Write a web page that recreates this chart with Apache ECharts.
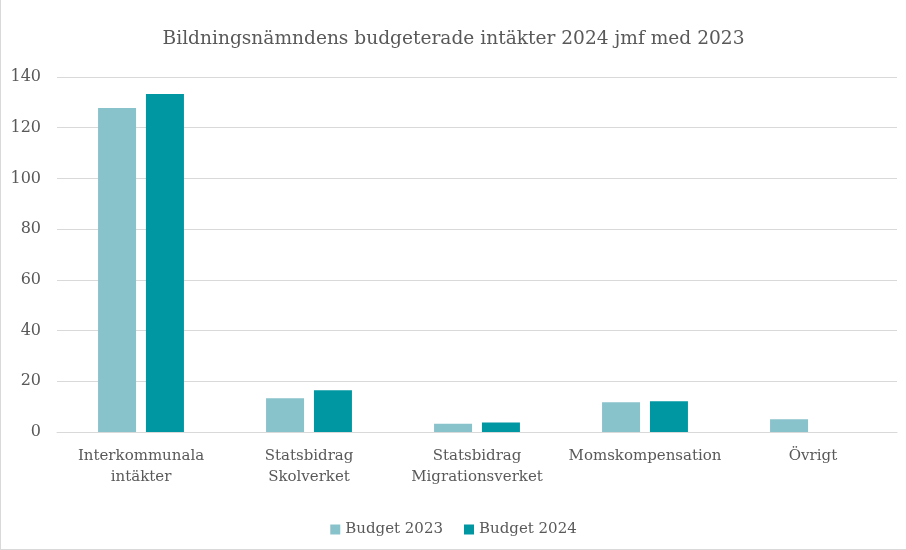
<!DOCTYPE html>
<html>
<head>
<meta charset="utf-8">
<script src="https://cdn.jsdelivr.net/npm/echarts@6/dist/echarts.min.js"></script>
<style>
  html, body { margin: 0; padding: 0; background: #fff; }
  #chart { width: 906px; height: 550px; box-sizing: border-box; border-left: 1px solid #d9d9d9; border-bottom: 1px solid #d9d9d9; }
</style>
</head>
<body>
<div id="chart"></div>
<script>
const categories = [
  "Interkommunala\nintäkter",
  "Statsbidrag\nSkolverket",
  "Statsbidrag\nMigrationsverket",
  "Momskompensation",
  "Övrigt"
];
const budget2023 = [127.8, 13.3, 3.3, 11.7, 5.0];
const budget2024 = [133.3, 16.5, 3.7, 12.1, null];
const yTicks = [0, 20, 40, 60, 80, 100, 120, 140];

const font = "DejaVu Serif";
const textColor = "#595959";

const chart = echarts.init(document.getElementById("chart"));
chart.setOption({
  animation: false,
  title: {
    text: "Bildningsnämndens budgeterade intäkter 2024 jmf med 2023",
    left: "center",
    top: 25,
    textStyle: { fontFamily: font, fontSize: 18.6, fontWeight: "normal", color: textColor }
  },
  legend: {
    bottom: 7,
    left: "center",
    itemWidth: 10,
    itemHeight: 10,
    itemGap: 21,
    icon: "rect",
    textStyle: { fontFamily: font, fontSize: 15, color: textColor }
  },
  grid: { left: 56, right: 9, top: 77, bottom: 117 },
  xAxis: {
    type: "category",
    data: categories,
    axisTick: { show: false },
    axisLine: { lineStyle: { color: "#d9d9d9", width: 1 } },
    axisLabel: { interval: 0, fontFamily: font, fontSize: 15, color: textColor, margin: 14, lineHeight: 21 }
  },
  yAxis: {
    type: "value",
    min: yTicks[0],
    max: yTicks[yTicks.length - 1],
    interval: 20,
    axisLine: { show: false },
    axisTick: { show: false },
    splitLine: { lineStyle: { color: "#d9d9d9", width: 1 } },
    axisLabel: { fontFamily: font, fontSize: 16, color: textColor, margin: 16 }
  },
  series: [
    {
      name: "Budget 2023",
      type: "bar",
      data: budget2023,
      barWidth: 38,
      barGap: "26%",
      itemStyle: { color: "#88C2CB" }
    },
    {
      name: "Budget 2024",
      type: "bar",
      data: budget2024,
      barWidth: 38,
      itemStyle: { color: "#0096A2" }
    }
  ]
});
</script>
</body>
</html>
